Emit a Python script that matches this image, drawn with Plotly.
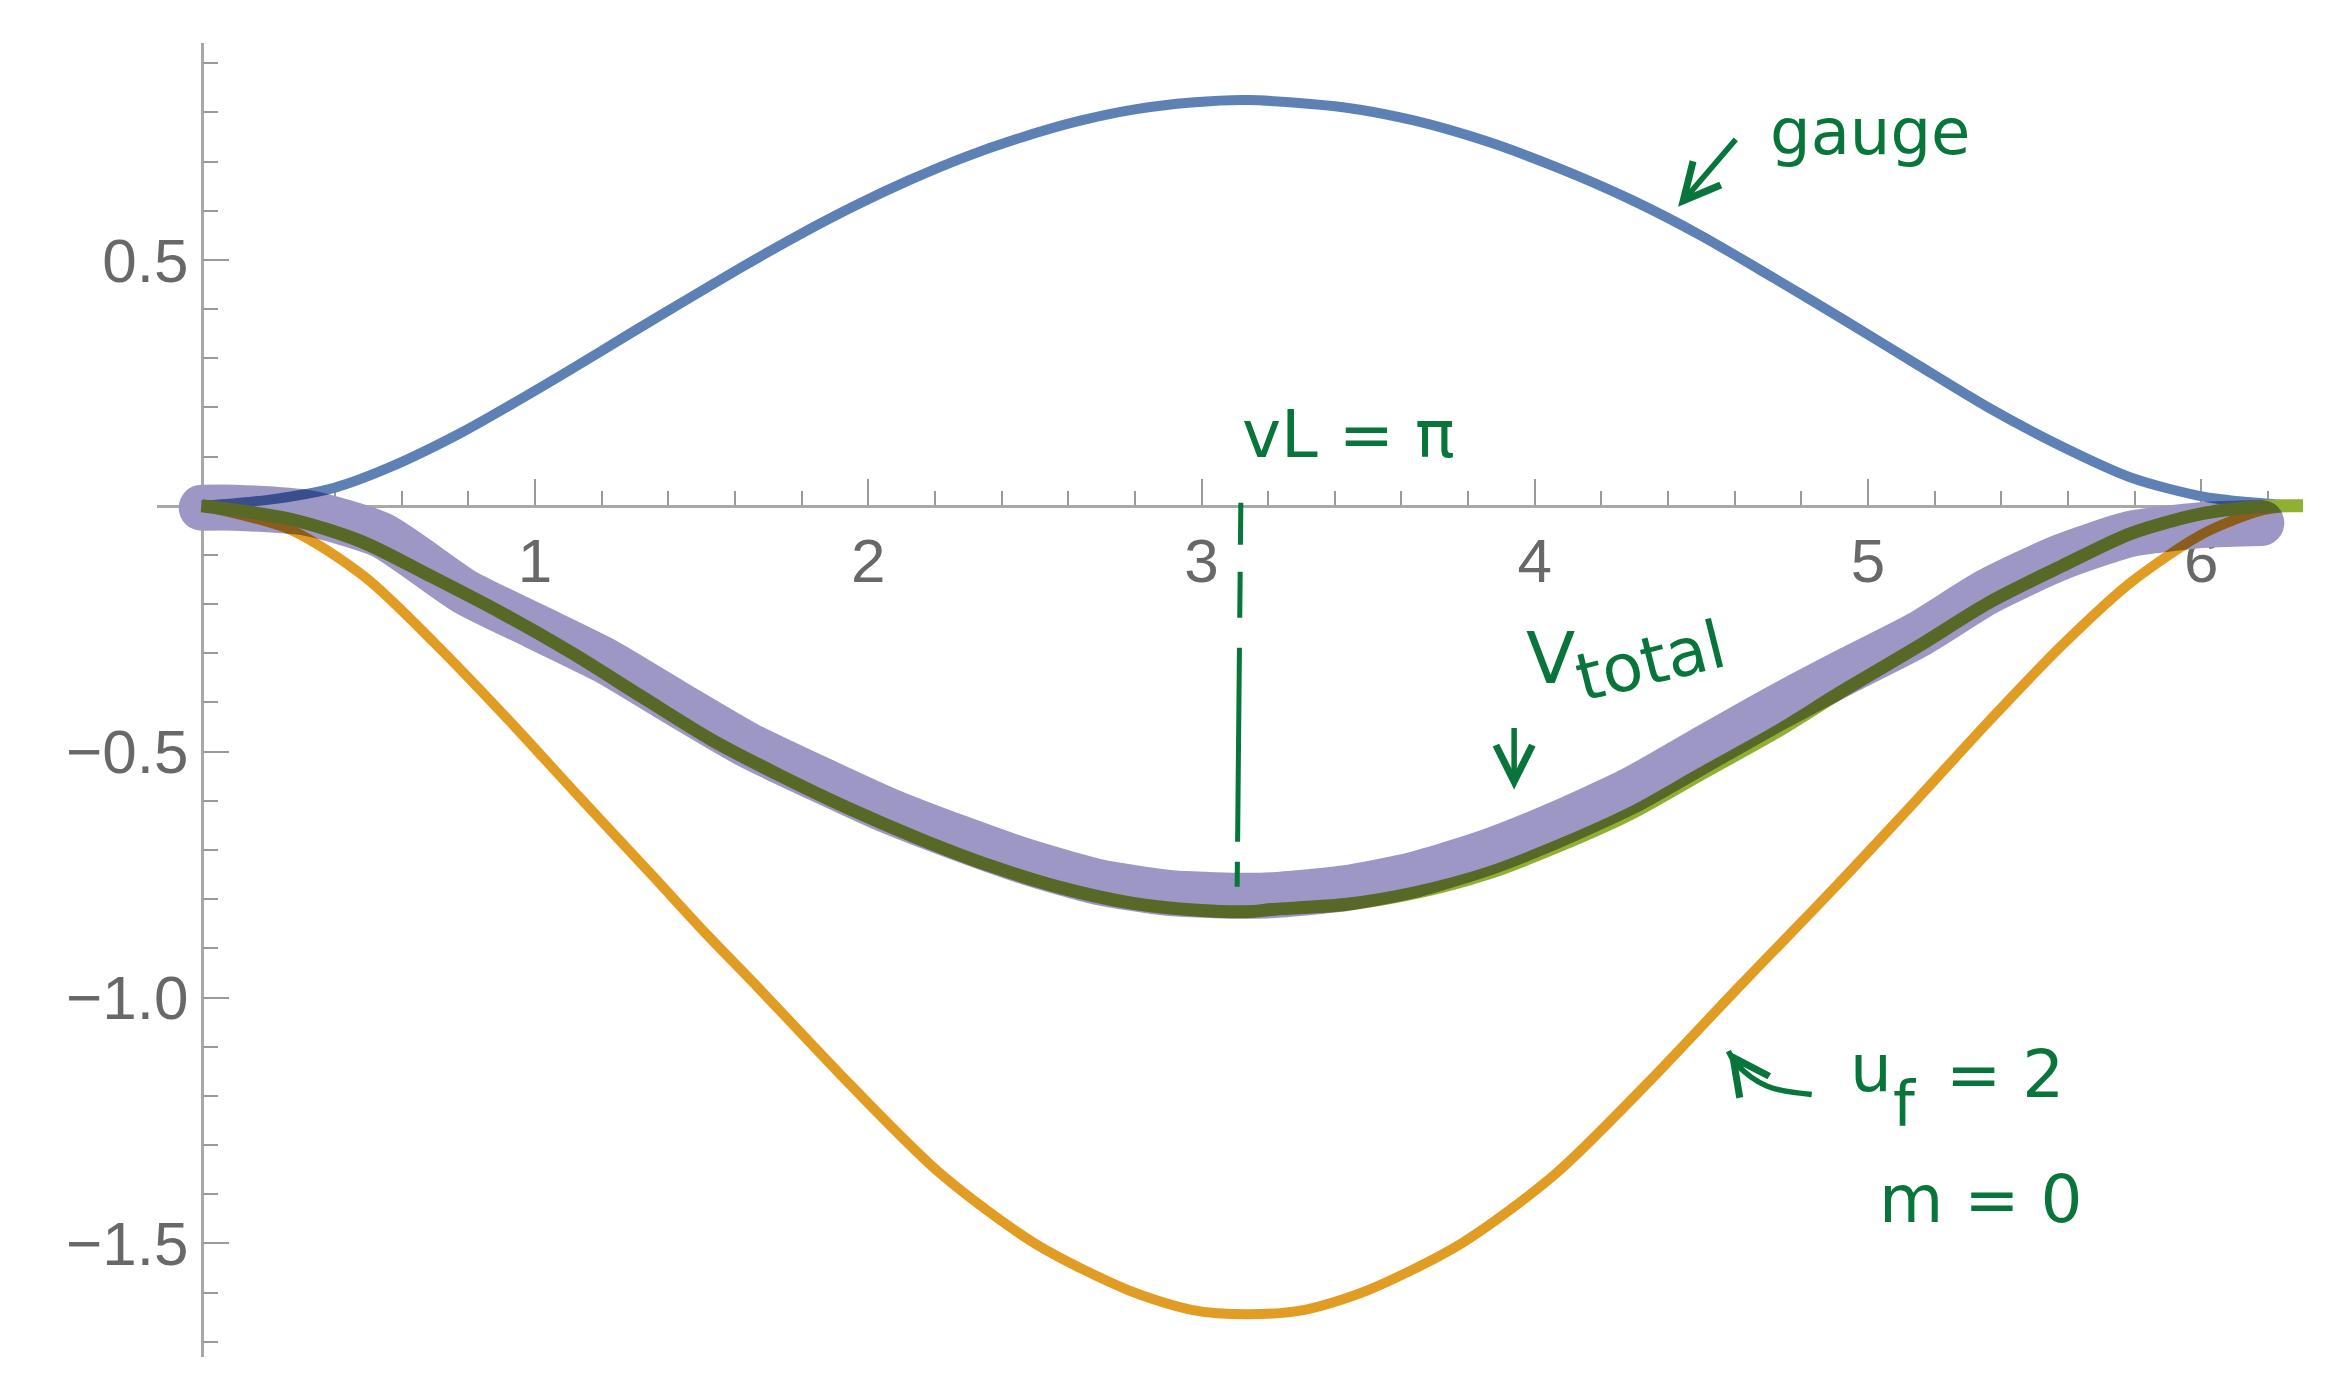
import plotly.graph_objects as go

# curves
gauge_x = [0, 0.21, 0.40, 0.57, 0.78, 0.95, 1.11, 1.28, 1.45, 1.62, 1.79, 1.96, 2.12, 2.29, 2.46, 2.63, 2.80,
           2.97, 3.14, 3.43, 3.64, 3.86, 4.07, 4.29, 4.50, 4.72, 4.93, 5.15, 5.36, 5.58, 5.79, 6.01, 6.20, 6.28]
gauge_y = [0, 0.013, 0.037, 0.080, 0.149, 0.214, 0.278, 0.348, 0.417, 0.485, 0.550, 0.610, 0.661, 0.709,
           0.749, 0.782, 0.806, 0.820, 0.825, 0.810, 0.783, 0.740, 0.687, 0.622, 0.549, 0.462, 0.377, 0.286,
           0.200, 0.121, 0.057, 0.018, 0.004, 0]

fermion_x = [0, 0.27, 0.49, 0.70, 0.92, 1.13, 1.35, 1.52, 1.67, 1.95, 2.22, 2.50, 2.78, 2.97, 3.14,
             3.31, 3.50, 3.78, 4.06, 4.33, 4.61, 4.76, 4.93, 5.15, 5.36, 5.58, 5.79, 6.01, 6.18, 6.28]
fermion_y = [0, -0.050, -0.145, -0.280, -0.435, -0.590, -0.750, -0.875, -0.980, -1.180, -1.360, -1.500,
             -1.595, -1.635, -1.644, -1.635, -1.595, -1.500, -1.360, -1.180, -0.980, -0.875, -0.755, -0.595,
             -0.440, -0.285, -0.155, -0.055, -0.010, 0]

total_x = [0, 0.27, 0.48, 0.69, 0.90, 1.11, 1.32, 1.53, 1.74, 1.95, 2.16, 2.37, 2.58, 2.79, 3.00, 3.15, 3.21,
           3.43, 3.64, 3.86, 4.07, 4.29, 4.50, 4.72, 4.93, 5.15, 5.36, 5.58, 5.79, 6.01, 6.20, 6.31]
total_y = [0, -0.028, -0.073, -0.144, -0.218, -0.299, -0.388, -0.476, -0.550, -0.618, -0.679, -0.733, -0.777,
           -0.808, -0.823, -0.825, -0.821, -0.811, -0.787, -0.747, -0.692, -0.625, -0.545, -0.462, -0.374,
           -0.286, -0.198, -0.123, -0.056, -0.015, -0.001, 0]

# hand-drawn highlighter stroke over V_total
marker_x = [0.0, 0.1, 0.32, 0.54, 0.79, 1.0, 1.21, 1.42, 1.64, 1.85, 2.06, 2.27, 2.48, 2.69, 2.90, 3.11, 3.21,
            3.43, 3.64, 3.86, 4.07, 4.29, 4.50, 4.72, 4.93, 5.15, 5.36, 5.58, 5.79, 6.01, 6.18]
marker_y = [-0.004, -0.004, -0.015, -0.060, -0.175, -0.245, -0.315, -0.400, -0.487, -0.555, -0.620, -0.675,
            -0.725, -0.765, -0.787, -0.793, -0.792, -0.778, -0.750, -0.704, -0.647, -0.578, -0.497, -0.413,
            -0.338, -0.262, -0.174, -0.104, -0.057, -0.039, -0.035]

# vL = pi guide line and the curved arrow near u_f = 2
guide_x = [3.118, 3.107]
guide_y = [0.006, -0.776]
curl_x = [4.831, 4.696, 4.606, 4.581]
curl_y = [-1.197, -1.180, -1.136, -1.109]

x_ticks = [1, 2, 3, 4, 5, 6]
y_ticks = [-1.5, -1.0, -0.5, 0.5]
y_labels = ["\u22121.5", "\u22121.0", "\u22120.5", "0.5"]

x_range = [-0.134, 6.305]
y_range = [-1.731, 0.941]

INK = "rgb(8,118,58)"
HAND = "DejaVu Sans"

fig = go.Figure()
fig.add_trace(go.Scatter(x=gauge_x, y=gauge_y, mode="lines",
                         line=dict(color="#5E81B5", width=10, shape="spline", smoothing=0.8)))
fig.add_trace(go.Scatter(x=fermion_x, y=fermion_y, mode="lines",
                         line=dict(color="#E19C24", width=10, shape="spline", smoothing=0.8)))
fig.add_trace(go.Scatter(x=total_x, y=total_y, mode="lines",
                         line=dict(color="#8FB032", width=13, shape="spline", smoothing=0.8)))
fig.add_trace(go.Scatter(x=marker_x, y=marker_y, mode="lines", uid="highlight",
                         line=dict(color="rgb(157,151,198)", width=46, shape="spline", smoothing=0.6)))
fig.add_trace(go.Scatter(x=guide_x, y=guide_y, mode="lines",
                         line=dict(color=INK, width=5, dash="42px,27px,46px,30px,194px,20px,25px")))
fig.add_trace(go.Scatter(x=curl_x, y=curl_y, mode="lines", line=dict(color=INK, width=5.5, shape="spline")))


def arrow(x, y, ax, ay):
    fig.add_annotation(x=x, y=y, ax=ax, ay=ay, xref="x", yref="y", axref="x", ayref="y", text="",
                       showarrow=True, arrowhead=5, arrowsize=1.3, arrowwidth=5.5, arrowcolor=INK)


def note(text, x, y, size, angle=0):
    fig.add_annotation(x=x, y=y, xref="x", yref="y", text=text, showarrow=False, textangle=angle,
                       font=dict(family=HAND, size=size, color=INK))


arrow(4.43, 0.608, 4.607, 0.748)
arrow(3.938, -0.577, 3.938, -0.449)
arrow(4.581, -1.109, 4.625, -1.150)

note("gauge", 5.006, 0.76, 64)
note("vL = \u03c0", 3.44, 0.144, 66)
note("V", 4.046, -0.309, 72)
note("total", 4.346, -0.317, 66, -14)
note("u", 5.009, -1.145, 66)
note("f", 5.111, -1.215, 62)
note("= 2", 5.411, -1.157, 66)
note("m = 0", 5.339, -1.411, 66)

tick_font = dict(family="Liberation Sans, Arial, sans-serif", size=62, color="#686868")

fig.update_layout(
    width=2325,
    height=1385,
    margin=dict(l=157, r=22, t=43, b=28),
    paper_bgcolor="white",
    plot_bgcolor="white",
    showlegend=False,
    xaxis=dict(
        range=x_range, anchor="free", automargin=False,
        position=(0 - y_range[0]) / (y_range[1] - y_range[0]),
        showgrid=False, zeroline=False, showline=True, linecolor="#a8a8a8", linewidth=2.5,
        tickmode="array", tickvals=x_ticks, ticktext=[str(v) for v in x_ticks],
        ticks="inside", ticklen=26, tickwidth=2, tickcolor="#9a9a9a",
        minor=dict(dtick=0.2, tick0=0, ticks="inside", ticklen=14, tickwidth=2, tickcolor="#9a9a9a"),
        tickfont=tick_font, layer="below traces",
    ),
    yaxis=dict(
        range=y_range, anchor="free", automargin=False,
        position=(0 - x_range[0]) / (x_range[1] - x_range[0]),
        showgrid=False, zeroline=False, showline=True, linecolor="#a8a8a8", linewidth=2.5,
        tickmode="array", tickvals=y_ticks, ticktext=y_labels,
        ticks="inside", ticklen=26, tickwidth=2, tickcolor="#9a9a9a",
        minor=dict(dtick=0.1, tick0=0, ticks="inside", ticklen=15, tickwidth=2, tickcolor="#9a9a9a"),
        tickfont=tick_font, layer="below traces",
    ),
)

# page without body margin; highlighter stroke multiplies with what is under it and has round ends
css = ("body{margin:0;overflow:hidden}"
       ".tracehighlight{mix-blend-mode:multiply}.tracehighlight path.js-line{stroke-linecap:round}")
fig.write_html("out.html", config={"displayModeBar": False},
               post_script="var s=document.createElement('style');s.textContent='%s';"
                           "document.head.appendChild(s);" % css)
